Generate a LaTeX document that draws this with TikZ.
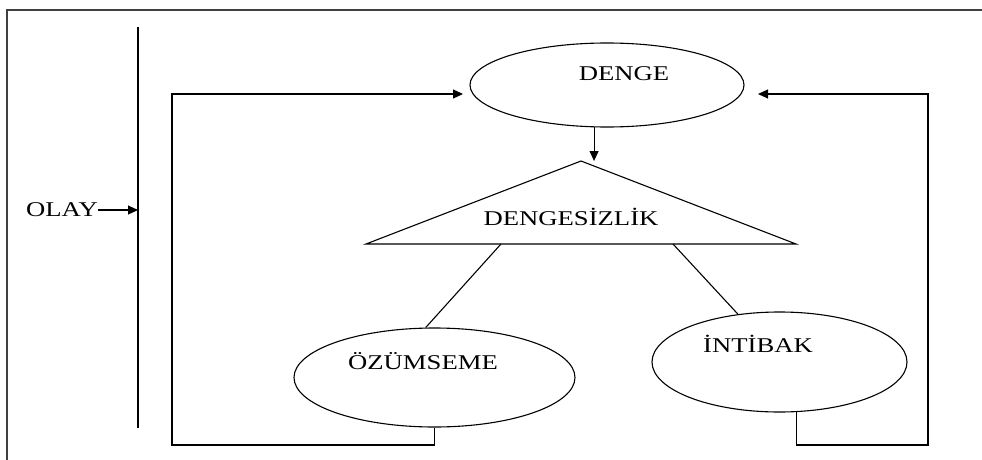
\documentclass[tikz,border=0pt]{standalone}
\usepackage{fontspec}
\setmainfont{Liberation Serif}[FakeStretch=1.27]
\usepackage{tikz}
\usetikzlibrary{shapes.geometric, arrows.meta, positioning, calc}

\begin{document}
\begin{tikzpicture}[x=1pt, y=-1pt,
  line width=1.1pt,
  oval/.style={draw, ellipse, inner sep=0pt},
  lbl/.style={inner sep=0pt, font=\fontsize{21}{23}\selectfont},
  flow/.style={-{Triangle[length=10pt, width=9pt]}}]
\useasboundingbox (0,0) rectangle (982,460);
\draw[line width=1.6pt, black!75] (7,460) -- (7,10) -- (982,10);

\coordinate (vtop) at (138,27);
\coordinate (vbot) at (138,428);
\draw (vtop) -- (vbot);
\node[lbl] (olay) at (62,210) {OLAY};
\draw[flow] (olay.east) -- (olay.east -| vtop);

\node[oval, minimum width=274pt, minimum height=84pt] (denge) at (607,85) {};
\node[lbl] (dengetxt) at (624,74) {DENGE};

\coordinate (apex) at (581,161);
\coordinate (baseL) at (366,244);
\coordinate (baseR) at (796,244);
\draw (baseL) -- (apex) -- (baseR) -- cycle;
\node[lbl] (dengesiz) at (571,217) {DENGESİZLİK};
\draw[flow] (denge.-107) -- (denge.-107 |- apex);

\node[oval, minimum width=281pt, minimum height=99pt] (ozum) at (434.5,377.5) {};
\node[lbl] (ozumtxt) at (423,361) {ÖZÜMSEME};
\node[oval, minimum width=255pt, minimum height=100pt] (intb) at (779.5,362) {};
\node[lbl] (intbtxt) at (758,344) {İNTİBAK};

\coordinate (legL) at (501,244);
\coordinate (legR) at (673,244);
\draw (legL) -- (ozum.100);
\draw (legR) -- (intb.131);

\coordinate (lcorner) at (172,445);
\coordinate (lin) at (463,94);
\coordinate (rcorner) at (928,445);
\coordinate (rin) at (758,94);
\draw[flow] (ozum.south) |- (lcorner) |- (lin);
\draw[flow] (intb.-71) |- (rcorner) |- (rin);
\end{tikzpicture}
\end{document}
